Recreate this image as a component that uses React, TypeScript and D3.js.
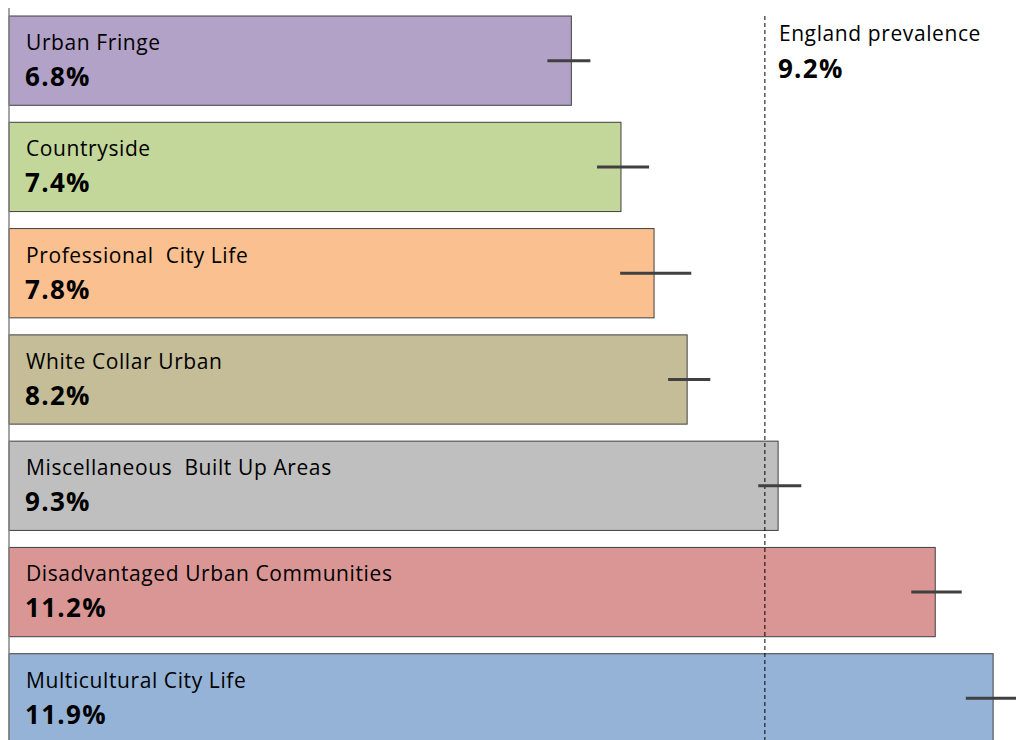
import { useEffect, useRef } from 'react';
import * as d3 from 'd3';

const categories = [
  'Urban Fringe',
  'Countryside',
  'Professional  City Life',
  'White Collar Urban',
  'Miscellaneous  Built Up Areas',
  'Disadvantaged Urban Communities',
  'Multicultural City Life',
];
const values = [6.8, 7.4, 7.8, 8.2, 9.3, 11.2, 11.9];
const lower = [6.51, 7.11, 7.39, 7.97, 9.06, 10.91, 11.57];
const upper = [7.03, 7.74, 8.25, 8.48, 9.58, 11.52, 12.2];
const colors = ['#B3A2C7', '#C4D79B', '#FAC090', '#C4BD97', '#BFBFBF', '#D99694', '#95B3D7'];
const englandValue = 9.14;
const englandLabel = 'England prevalence';
const englandText = '9.2%';

const width = 1016;
const height = 740;

export default function App() {
  const svgRef = useRef<SVGSVGElement>(null);

  useEffect(() => {
    if (!svgRef.current) return;
    const svg = d3.select(svgRef.current);
    svg.selectAll('*').remove();

    const x = d3.scaleLinear().domain([0, 12]).range([9, 9 + 82.7 * 12]);
    const y = d3.scaleBand<string>()
      .domain(categories)
      .range([16, 743])
      .paddingInner(0.16)
      .paddingOuter(0);

    const rows = categories.map((c, i) => ({
      category: c,
      value: values[i],
      lo: lower[i],
      hi: upper[i],
      color: colors[i],
      label: values[i].toFixed(1) + '%',
    }));

    // Bars
    svg.selectAll('.bar')
      .data(rows)
      .enter().append('rect')
      .attr('class', 'bar')
      .attr('x', x(0))
      .attr('y', d => y(d.category) || 0)
      .attr('width', d => x(d.value) - x(0))
      .attr('height', y.bandwidth())
      .attr('fill', d => d.color)
      .attr('stroke', '#404040')
      .attr('stroke-width', 1);

    // England reference line
    svg.append('line')
      .attr('x1', x(englandValue))
      .attr('x2', x(englandValue))
      .attr('y1', 16)
      .attr('y2', height)
      .attr('stroke', '#000')
      .attr('stroke-width', 1)
      .attr('stroke-dasharray', '4,3');

    // Error bars
    svg.selectAll('.err')
      .data(rows)
      .enter().append('line')
      .attr('class', 'err')
      .attr('x1', d => x(d.lo))
      .attr('x2', d => x(d.hi))
      .attr('y1', d => (y(d.category) || 0) + y.bandwidth() / 2)
      .attr('y2', d => (y(d.category) || 0) + y.bandwidth() / 2)
      .attr('stroke', '#404040')
      .attr('stroke-width', 3);

    // Axis line
    svg.append('line')
      .attr('x1', x(0))
      .attr('x2', x(0))
      .attr('y1', 8)
      .attr('y2', height)
      .attr('stroke', '#868686')
      .attr('stroke-width', 1.5);

    // Labels
    const font = '"Open Sans", "Noto Sans", sans-serif';
    svg.selectAll('.cat')
      .data(rows)
      .enter().append('text')
      .attr('class', 'cat')
      .attr('x', 26)
      .attr('y', d => (y(d.category) || 0) + 34)
      .attr('font-family', font)
      .attr('font-size', 21)
      .attr('letter-spacing', 0.6)
      .attr('fill', '#000')
      .style('white-space', 'pre')
      .text(d => d.category);

    svg.selectAll('.val')
      .data(rows)
      .enter().append('text')
      .attr('class', 'val')
      .attr('x', 25)
      .attr('y', d => (y(d.category) || 0) + 70)
      .attr('font-family', font)
      .attr('font-size', 26)
      .attr('font-weight', 'bold')
      .attr('letter-spacing', 1.3)
      .attr('fill', '#000')
      .text(d => d.label);

    svg.append('text')
      .attr('x', x(englandValue) + 14)
      .attr('y', 41)
      .attr('font-family', font)
      .attr('font-size', 21)
      .attr('letter-spacing', 0.6)
      .attr('fill', '#000')
      .text(englandLabel);

    svg.append('text')
      .attr('x', x(englandValue) + 13)
      .attr('y', 78)
      .attr('font-family', font)
      .attr('font-size', 26)
      .attr('font-weight', 'bold')
      .attr('letter-spacing', 1.3)
      .attr('fill', '#000')
      .text(englandText);
  }, []);

  return (
    <svg
      ref={svgRef}
      width={width}
      height={height}
      style={{ position: 'absolute', left: 0, top: 0, background: '#fff' }}
    />
  );
}
